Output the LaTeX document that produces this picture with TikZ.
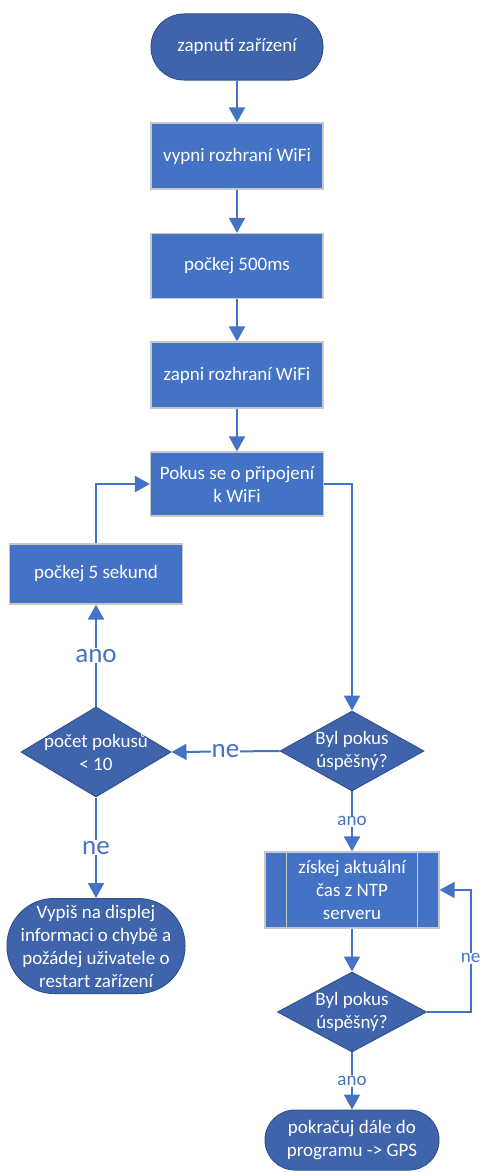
\documentclass[tikz,border=0pt]{standalone}
\usepackage{fontspec}
\setmainfont{Carlito}
\usetikzlibrary{arrows.meta, positioning, shapes.geometric}
\definecolor{boxblue}{HTML}{4472C4}
\definecolor{darkblue}{HTML}{3F64AC}
\definecolor{edgeblue}{HTML}{2F528F}
\definecolor{boxedge}{HTML}{C8C8C8}

\begin{document}
\begin{tikzpicture}[
  x=1pt, y=-1pt,
  block/.style = {draw=boxedge, line width=1.2pt, fill=boxblue, text=white, minimum height=66pt, minimum width=172pt, align=center, font=\fontsize{19}{23}\selectfont},
  term/.style = {draw=edgeblue, line width=1pt, fill=darkblue, text=white, rounded corners=33pt, minimum height=66pt, minimum width=172pt, align=center, font=\fontsize{19}{23}\selectfont},
  decision/.style = {diamond, draw=edgeblue, line width=1pt, fill=darkblue, text=white, inner sep=0pt, aspect=1.8, align=center, font=\fontsize{19}{23}\selectfont},
  arrow/.style = {boxblue, line width=2pt, -{Triangle[width=16pt,length=15pt]}},
  biglabel/.style = {text=boxblue, fill=white, inner sep=1pt, font=\fontsize{27}{30}\selectfont},
  smalllabel/.style = {text=boxblue, fill=white, inner sep=1pt, font=\fontsize{19}{23}\selectfont}
]
  \useasboundingbox (0,0) rectangle (483,1172);

  % Main column
  \node[term] (start) at (237,47) {zapnutí zařízení};
  \node[block] (wifioff) at (237,156) {vypni rozhraní WiFi};
  \node[block, minimum height=65pt] (wait) at (237,266) {počkej 500ms};
  \node[block] (wifion) at (237,375) {zapni rozhraní WiFi};
  \node[block, minimum height=64pt, minimum width=173pt] (connect) at (237,484) {Pokus se o připojení\\k WiFi};

  % Retry loop
  \node[block, minimum height=60pt, minimum width=173pt] (wait5) at (96,574) {počkej 5 sekund};
  \node[decision, inner sep=-8pt, minimum width=150pt, minimum height=90pt] (tries) at (96,752) {počet pokusů\\< 10};
  \node[term, minimum width=178pt, minimum height=95pt, rounded corners=47pt] (error) at (96,946) {Vypiš na displej\\informaci o chybě a\\požádej uživatele o\\restart zařízení};

  % Right column
  \node[decision, minimum width=139pt, minimum height=77pt] (ok1) at (352,751) {Byl pokus\\úspěšný?};
  \node[block, minimum width=174pt, minimum height=76pt] (ntp) at (352,890) {získej aktuální\\čas z NTP\\serveru};
  \draw[boxedge, line width=1.2pt] ([xshift=22pt]ntp.north west) -- ([xshift=22pt]ntp.south west);
  \draw[boxedge, line width=1.2pt] ([xshift=-22pt]ntp.north east) -- ([xshift=-22pt]ntp.south east);
  \node[decision, minimum width=149pt, minimum height=79pt] (ok2) at (352,1012) {Byl pokus\\úspěšný?};
  \node[term, minimum width=174pt, minimum height=60pt, rounded corners=30pt] (gps) at (352,1140) {pokračuj dále do\\programu -> GPS};

  % Arrows
  \draw[arrow] (start) -- (wifioff);
  \draw[arrow] (wifioff) -- (wait);
  \draw[arrow] (wait) -- (wifion);
  \draw[arrow] (wifion) -- (connect);
  \draw[arrow] (connect.east) -| (ok1.north);
  \draw[arrow] (ok1.west) -- node[biglabel] {ne} (tries.east);
  \draw[arrow] (tries.north) -- node[biglabel] {ano} (wait5.south);
  \draw[arrow] (wait5.north) |- (connect.west);
  \draw[arrow] (tries.south) -- node[biglabel] {ne} (error.north);
  \draw[arrow] (ok1.south) -- node[smalllabel] {ano} (ntp.north);
  \draw[arrow] (ntp) -- (ok2);
  \draw[arrow] (ok2.east) -| node[pos=0.72, smalllabel] {ne} ([xshift=31pt]ntp.east) -- (ntp.east);
  \draw[arrow] (ok2.south) -- node[smalllabel] {ano} (gps.north);

\end{tikzpicture}
\end{document}
